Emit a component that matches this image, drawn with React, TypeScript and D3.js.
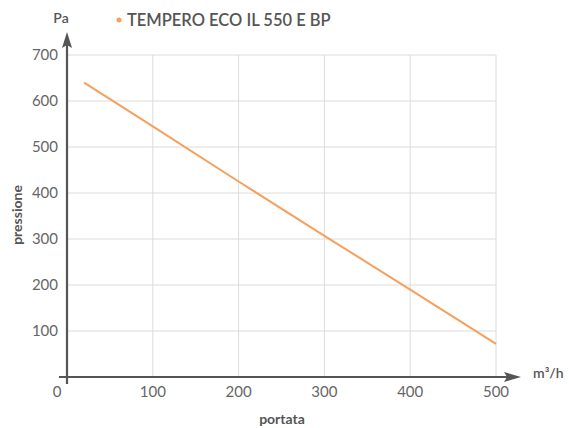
import React, { useEffect, useRef } from 'react';
import * as d3 from 'd3';

const flowValues = [20, 100, 200, 300, 400, 500];
const pressureValues = [640, 545, 425, 307, 190, 72];
const xTicks = [100, 200, 300, 400, 500];
const yTicks = [100, 200, 300, 400, 500, 600, 700];
const seriesName = 'TEMPERO ECO IL 550 E BP';

const App: React.FC = () => {
  const svgRef = useRef<SVGSVGElement>(null);

  useEffect(() => {
    if (!svgRef.current) return;
    const svg = d3.select(svgRef.current);
    svg.selectAll('*').remove();

    const font = 'Lato, "Open Sans", sans-serif';
    const axisColor = '#555';
    const orange = '#f5a05c';

    const x = d3.scaleLinear().domain([0, 500]).range([67, 496]);
    const y = d3.scaleLinear().domain([0, 700]).range([377, 55]);

    // Grid
    const grid = svg.append('g');
    grid.selectAll('line.h')
      .data(yTicks)
      .enter()
      .append('line')
      .attr('x1', x(0))
      .attr('x2', x(500))
      .attr('y1', d => y(d))
      .attr('y2', d => y(d))
      .attr('stroke', '#dcdcdc')
      .attr('stroke-width', 1);
    grid.selectAll('line.v')
      .data(xTicks)
      .enter()
      .append('line')
      .attr('x1', d => x(d))
      .attr('x2', d => x(d))
      .attr('y1', y(700))
      .attr('y2', y(0))
      .attr('stroke', '#dcdcdc')
      .attr('stroke-width', 1);

    // Axes with arrows
    svg.append('line')
      .attr('x1', x(0) - 8).attr('x2', 510)
      .attr('y1', y(0)).attr('y2', y(0))
      .attr('stroke', axisColor).attr('stroke-width', 2.2);
    svg.append('path')
      .attr('d', `M521,${y(0)} L504,${y(0) - 5} L507,${y(0)} L504,${y(0) + 5} Z`)
      .attr('fill', axisColor);
    svg.append('line')
      .attr('x1', x(0)).attr('x2', x(0))
      .attr('y1', y(0) + 7).attr('y2', 42)
      .attr('stroke', axisColor).attr('stroke-width', 2.2);
    svg.append('path')
      .attr('d', `M${x(0)},32 L${x(0) - 5},48 L${x(0)},45 L${x(0) + 5},48 Z`)
      .attr('fill', axisColor);

    // Tick labels
    svg.selectAll('text.yt')
      .data(yTicks)
      .enter()
      .append('text')
      .attr('x', 58)
      .attr('y', d => y(d))
      .attr('dy', '0.36em')
      .attr('text-anchor', 'end')
      .attr('font-family', font)
      .attr('font-size', 15)
      .attr('fill', '#666')
      .text(d => d);
    svg.selectAll('text.xt')
      .data([0, ...xTicks])
      .enter()
      .append('text')
      .attr('x', d => (d === 0 ? x(0) - 10 : x(d)))
      .attr('y', 397)
      .attr('text-anchor', 'middle')
      .attr('font-family', font)
      .attr('font-size', 15)
      .attr('fill', '#666')
      .text(d => d);

    // Axis titles
    svg.append('text')
      .attr('x', 61).attr('y', 23)
      .attr('text-anchor', 'middle')
      .attr('font-family', font).attr('font-size', 14)
      .attr('font-weight', 600).attr('fill', axisColor)
      .text('Pa');
    svg.append('text')
      .attr('x', 533).attr('y', 378)
      .attr('font-family', font).attr('font-size', 14)
      .attr('font-weight', 600).attr('fill', axisColor)
      .text('m³/h');
    svg.append('text')
      .attr('transform', 'translate(22,215) rotate(-90)')
      .attr('text-anchor', 'middle')
      .attr('font-family', font).attr('font-size', 14)
      .attr('font-weight', 700).attr('fill', axisColor)
      .text('pressione');
    svg.append('text')
      .attr('x', 282).attr('y', 424)
      .attr('text-anchor', 'middle')
      .attr('font-family', font).attr('font-size', 14)
      .attr('font-weight', 700).attr('fill', axisColor)
      .text('portata');

    // Legend
    svg.append('circle')
      .attr('cx', 119).attr('cy', 20).attr('r', 2.5)
      .attr('fill', orange);
    svg.append('text')
      .attr('x', 127).attr('y', 26)
      .attr('font-family', font).attr('font-size', 16.5)
      .attr('font-weight', 600).attr('fill', axisColor)
      .text(seriesName);

    // Curve
    const pts = flowValues.map((f, i) => [f, pressureValues[i]] as [number, number]);
    const line = d3.line<[number, number]>()
      .x(d => x(d[0]))
      .y(d => y(d[1]));
    svg.append('path')
      .datum(pts)
      .attr('d', line)
      .attr('fill', 'none')
      .attr('stroke', orange)
      .attr('stroke-width', 2);
  }, []);

  return (
    <svg
      ref={svgRef}
      width={569}
      height={428}
      style={{ position: 'absolute', left: 0, top: 0, background: '#fff' }}
    />
  );
};

export default App;
